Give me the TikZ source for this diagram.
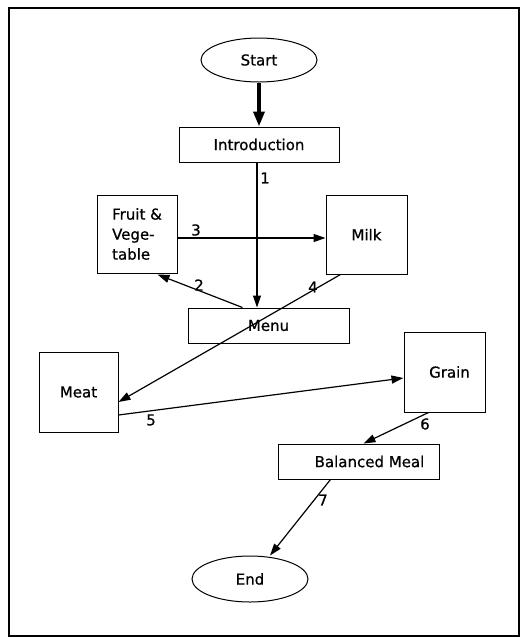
\documentclass[tikz,border=0pt]{standalone}
\usepackage{fontspec}
\setmainfont{DejaVu Sans}[FakeBold=0.8]
\usetikzlibrary{shapes.geometric,arrows.meta,calc}
\begin{document}
\begin{tikzpicture}[x=1pt,y=-1pt,
  every node/.style={font=\fontsize{15}{20}\selectfont},
  box/.style={draw,line width=1pt,rectangle,inner sep=0pt},
  oval/.style={draw,line width=1pt,ellipse,inner sep=0pt},
  conn/.style={line width=1.2pt,-{Triangle[length=12pt,width=8pt]}},
  num/.style={inner sep=0pt}]
\useasboundingbox (0,0) rectangle (522,638);
\draw[line width=1.4pt] (9,8) rectangle (519,636);
\node[oval,minimum width=116,minimum height=44] (start) at (259,60) {Start};
\node[box,minimum width=160,minimum height=35] (intro) at (259,144.5) {Introduction};
\node[box,minimum width=80,minimum height=78,align=left] (fruit) at (137,234) {Fruit \&\\Vege-\\table};
\node[box,minimum width=81,minimum height=79] (milk) at (366.5,234.5) {Milk};
\node[box,minimum width=161,minimum height=35] (menu) at (268.5,325.5) {Menu};
\node[box,minimum width=79,minimum height=80] (meat) at (78.5,392) {Meat};
\node[box,minimum width=81,minimum height=80] (grain) at (444.5,372) {\hspace*{10pt}Grain};
\node[box,minimum width=161,minimum height=35] (bal) at (358.5,461.5) {\hspace*{22pt}Balanced Meal};
\node[oval,minimum width=116,minimum height=46] (end) at (250,579) {End};
% connectors
\draw[line width=3.5pt,-{Triangle[length=15pt,width=11pt]}] (start.south) -- (intro.north);
\draw[conn] ($(intro.south)+(-2,0)$) -- ($(menu.north)+(-11.5,0)$);
\draw[conn] ($(menu.north)+(-26,0)$) -- ($(fruit.south east)+(-20,1)$);
\draw[conn] ($(fruit.east)+(0,4)$) -- ($(milk.west)+(0,3.5)$);
\draw[conn] ($(milk.south)+(-26,0)$) -- ($(meat.east)+(0,10)$);
\draw[conn] ($(meat.east)+(0,23)$) -- ($(grain.west)+(0,6)$);
\draw[conn] ($(grain.south)+(-16,0)$) -- ($(bal.north)+(5,0)$);
\draw[conn] ($(bal.south)+(-28,0)$) -- ($(end.north)+(20,0)$);
% labels
\node[num] (n1) at (265,178) {1};
\node[num] (n2) at (199,285) {2};
\node[num] (n3) at (196,230) {3};
\node[num] (n4) at (313,287) {4};
\node[num] (n5) at (151,420) {5};
\node[num] (n6) at (425,424) {6};
\node[num] (n7) at (323,500) {7};
\end{tikzpicture}
\end{document}
